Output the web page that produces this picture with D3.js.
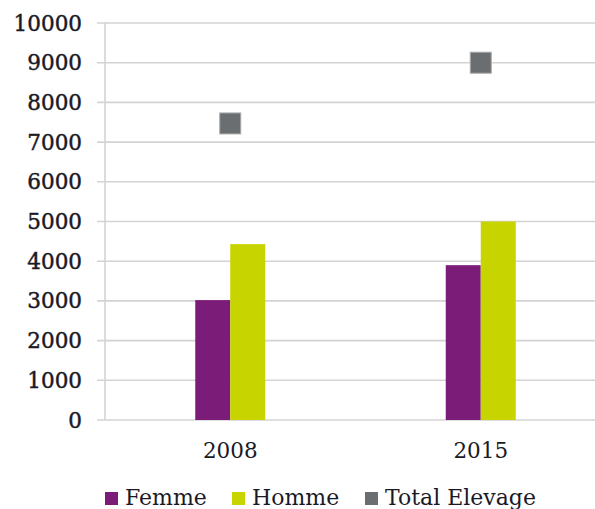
<!DOCTYPE html>
<html lang="fr">
<head>
  <meta charset="UTF-8">
  <script src="https://d3js.org/d3.v7.min.js"></script>
  <title>Elevage</title>
  <style>
    body { margin: 0; background: #fff; }
    svg text { font-family: "DejaVu Serif", serif; fill: #1a1a26; }
    .tick-label { stroke: #1a1a26; stroke-width: 0.45px; }
  </style>
</head>
<body>
  <div id="chart"></div>
  <script>
    const years = ['2008', '2015'];
    const femme = [3020, 3900];
    const homme = [4430, 5000];
    const totalElevage = [7470, 9000];
    const yTicks = [0, 1000, 2000, 3000, 4000, 5000, 6000, 7000, 8000, 9000, 10000];

    const width = 595, height = 509;
    const plotLeft = 105, plotRight = 606, plotTop = 23, plotBottom = 420;

    const svg = d3.select('#chart').append('svg').attr('width', width).attr('height', height);

    const x = d3.scaleBand().domain(years).range([plotLeft, plotRight]);
    const y = d3.scaleLinear().domain([0, 10000]).range([plotBottom, plotTop]);

    // gridlines
    svg.append('g').selectAll('line').data(yTicks).join('line')
      .attr('x1', 97).attr('x2', width)
      .attr('y1', d => y(d)).attr('y2', d => y(d))
      .attr('stroke', '#d3d3d3').attr('stroke-width', 1.6);

    svg.append('line')
      .attr('x1', plotLeft).attr('x2', plotLeft).attr('y1', y(10000)).attr('y2', y(0))
      .attr('stroke', '#d3d3d3').attr('stroke-width', 1.6);

    // y labels
    svg.append('g').selectAll('text').data(yTicks).join('text')
      .attr('class', 'tick-label')
      .attr('x', 82).attr('y', d => y(d)).attr('dy', '0.35em')
      .attr('text-anchor', 'end').style('font-size', '21.5px')
      .text(d => d);

    const bw = 35;
    svg.append('g').selectAll('rect').data(femme).join('rect')
      .attr('x', (d, i) => x(years[i]) + x.bandwidth() / 2 - bw)
      .attr('y', d => y(d)).attr('width', bw).attr('height', d => y(0) - y(d))
      .attr('fill', '#7b1c78');

    svg.append('g').selectAll('rect').data(homme).join('rect')
      .attr('x', (d, i) => x(years[i]) + x.bandwidth() / 2)
      .attr('y', d => y(d)).attr('width', bw).attr('height', d => y(0) - y(d))
      .attr('fill', '#c8d400');

    const sq = 21;
    svg.append('g').selectAll('rect').data(totalElevage).join('rect')
      .attr('x', (d, i) => x(years[i]) + x.bandwidth() / 2 - sq / 2)
      .attr('y', d => y(d) - sq / 2).attr('width', sq).attr('height', sq)
      .attr('fill', '#6b6e70').attr('stroke', '#a8aaab').attr('stroke-width', 1);

    // x labels
    svg.append('g').selectAll('text').data(years).join('text')
      .attr('x', d => x(d) + x.bandwidth() / 2).attr('y', 450).attr('dy', '0.35em')
      .attr('text-anchor', 'middle').style('font-size', '21.5px')
      .text(d => d);

    // legend
    const legend = [
      { name: 'Femme', color: '#7b1c78', x: 105 },
      { name: 'Homme', color: '#c8d400', x: 232 },
      { name: 'Total Elevage', color: '#6b6e70', x: 365 }
    ];
    const lg = svg.append('g').selectAll('g').data(legend).join('g');
    lg.append('rect').attr('x', d => d.x).attr('y', 492).attr('width', 13).attr('height', 13)
      .attr('fill', d => d.color);
    lg.append('text').attr('x', d => d.x + 20).attr('y', 505)
      .style('font-size', '22px').text(d => d.name);
  </script>
</body>
</html>
